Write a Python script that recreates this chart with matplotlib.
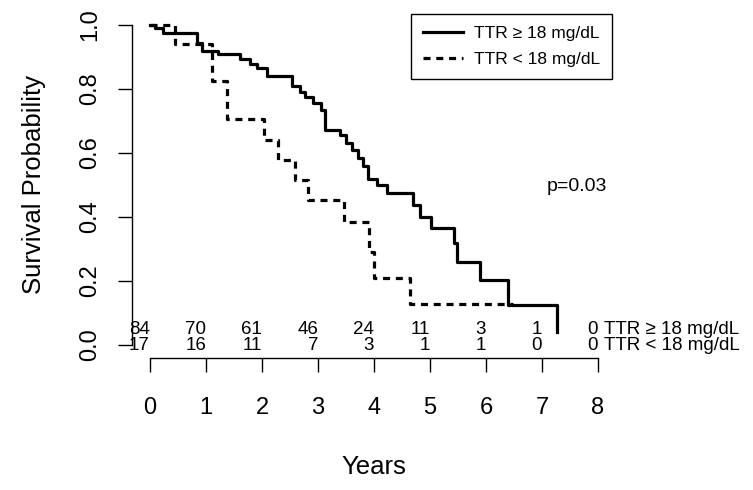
import numpy as np
import matplotlib
matplotlib.use('Agg')
import matplotlib.pyplot as plt

plt.rcParams['font.family'] = ['Liberation Sans', 'DejaVu Sans']

# Kaplan-Meier steps (years, survival after the drop)
hi_t = [0, 0.09, 0.23, 0.84, 0.93, 1.21, 1.61, 1.79, 1.91, 2.09, 2.54, 2.68, 2.77, 2.91,
        3.05, 3.13, 3.39, 3.5, 3.61, 3.71, 3.8, 3.89, 4.05, 4.23, 4.7, 4.82, 5.02, 5.43,
        5.48, 5.89, 6.39, 7.27]
hi_s = [1.0, 0.99, 0.975, 0.944, 0.92, 0.91, 0.893, 0.878, 0.866, 0.84, 0.81, 0.79, 0.775,
        0.756, 0.734, 0.672, 0.656, 0.63, 0.61, 0.585, 0.56, 0.52, 0.50, 0.475, 0.437, 0.40,
        0.366, 0.32, 0.26, 0.203, 0.125, 0.04]

lo_t = [0, 0.45, 1.11, 1.37, 2.04, 2.29, 2.59, 2.82, 3.46, 3.91, 4.0, 4.64, 6.48]
lo_s = [1.0, 0.941, 0.824, 0.706, 0.641, 0.578, 0.516, 0.453, 0.384, 0.29, 0.21, 0.128, 0.128]

# numbers at risk
years = [0, 1, 2, 3, 4, 5, 6, 7, 8]
risk_hi = [84, 70, 61, 46, 24, 11, 3, 1, 0]
risk_lo = [17, 16, 11, 7, 3, 1, 1, 0, 0]

lab_hi = 'TTR ≥ 18 mg/dL'
lab_lo = 'TTR < 18 mg/dL'

fig = plt.figure(figsize=(7.53, 4.90), dpi=100)
ax = fig.add_axes([0.1754, 0.2686, 0.6426, 0.7077])

ax.step(hi_t, hi_s, where='post', color='black', lw=2.3, label=lab_hi)
ax.step(lo_t, lo_s, where='post', color='black', lw=2.3, linestyle=(0, (2.2, 1.8)), label=lab_lo)

ax.set_xlim(-0.32, 8.32)
ax.set_ylim(-0.042, 1.042)

# R style detached axes
for s in ['top', 'right']:
    ax.spines[s].set_visible(False)
ax.spines['left'].set_bounds(0, 1)
ax.spines['bottom'].set_bounds(0, 8)
ax.spines['left'].set_linewidth(1.0)
ax.spines['bottom'].set_linewidth(1.0)

ax.set_xticks(years)
ax.set_yticks([0, 0.2, 0.4, 0.6, 0.8, 1.0])
ax.set_yticklabels(['0.0', '0.2', '0.4', '0.6', '0.8', '1.0'], rotation=90, va='center')
ax.tick_params(axis='y', length=10, width=1, labelsize=17, pad=12)
ax.tick_params(axis='x', length=10, width=1, labelsize=17, pad=18)

ax.set_xlabel('Years', fontsize=18.5, labelpad=26)
ax.set_ylabel('Survival Probability', fontsize=18.5, labelpad=24)

# at risk table inside the plot
for yr, a, b in zip(years, risk_hi, risk_lo):
    ax.text(yr, 0.048, str(a), ha='right', va='center', fontsize=13.5)
    ax.text(yr, -0.002, str(b), ha='right', va='center', fontsize=13.5)
ax.text(8.1, 0.048, lab_hi, ha='left', va='center', fontsize=13.5, clip_on=False)
ax.text(8.1, -0.002, lab_lo, ha='left', va='center', fontsize=13.5, clip_on=False)

ax.text(7.63, 0.494, 'p=0.03', ha='center', va='center', fontsize=14)

leg = ax.legend(loc='upper right', bbox_to_anchor=(612 / 753, 1 - 14 / 490),
                bbox_transform=fig.transFigure, fontsize=12.5, frameon=True,
                fancybox=False, edgecolor='black', framealpha=1, handlelength=2.3,
                handletextpad=0.6, borderpad=0.7, labelspacing=0.6, borderaxespad=0)
leg.get_frame().set_linewidth(1.0)

fig.savefig('out.png', dpi=100)
